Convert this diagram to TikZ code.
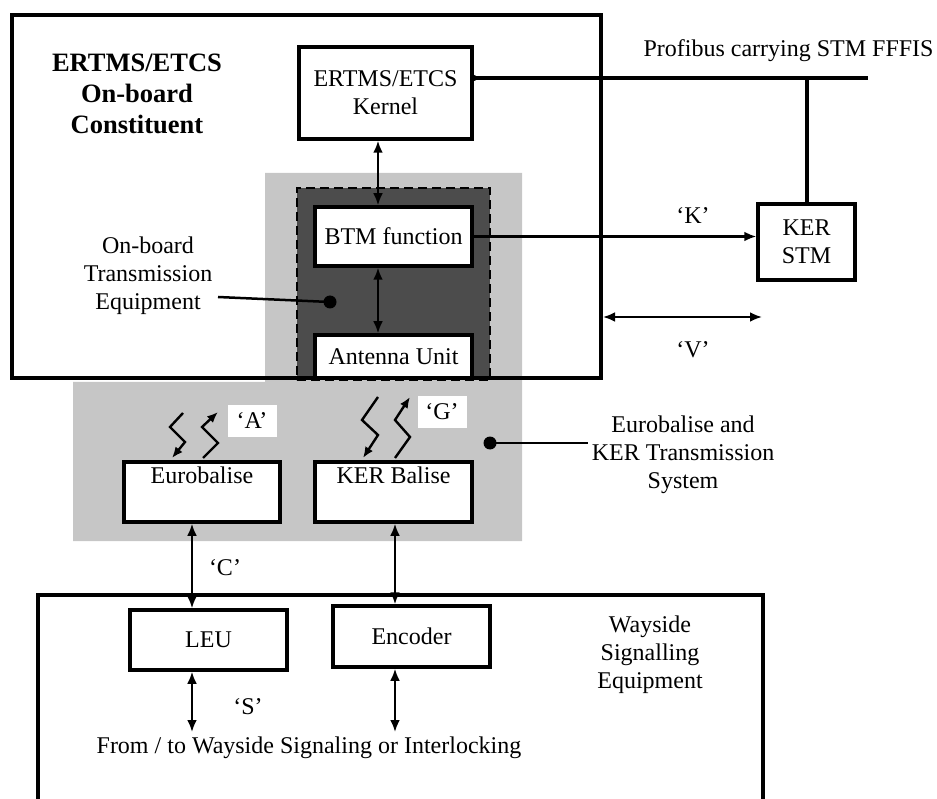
\documentclass[tikz,border=0pt]{standalone}
\usepackage{fontspec}
\setmainfont{Liberation Serif}
\usetikzlibrary{arrows.meta,positioning}

\begin{document}
\begin{tikzpicture}[
    x=1pt, y=-1pt,
    every node/.style={font=\fontsize{24}{28}\selectfont, align=center},
    frame/.style={draw, line width=4pt, inner sep=0pt},
    blk/.style={draw, line width=3.5pt, fill=white, inner sep=0pt},
    quote/.style={fill=white, inner sep=0pt, minimum width=49pt, minimum height=31pt},
    link/.style={line width=2.8pt, {Latex[length=12pt,width=10pt]}-{Latex[length=12pt,width=10pt]}},
    onelink/.style={line width=2.8pt, -{Latex[length=12pt,width=10pt]}},
    bus/.style={line width=4pt},
    wave/.style={line width=2.4pt, -{Latex[length=11pt,width=9pt]}},
    leader/.style={line width=2.5pt},
]
\useasboundingbox (0,0) rectangle (937,799);

% shaded transmission areas
\fill[gray!45] (265,173) rectangle (522,382) (73,382) rectangle (522,541);
\node[draw, dash pattern=on 9pt off 5pt, line width=2.8pt, fill=black!70, inner sep=0pt,
      minimum width=193pt, minimum height=192pt] (bte) at (393.5,284) {};

% on-board side
\node[blk, minimum width=173pt, minimum height=92pt] (kernel) at (385.5,93) {ERTMS/ETCS\\Kernel};
\node[blk, minimum width=157pt, minimum height=59pt] (btm) at (393.5,236.5) {BTM function};
\node[blk, minimum width=157pt, minimum height=43pt] (antenna) at (393.5,356.5) {Antenna Unit};
\node[blk, minimum width=97pt, minimum height=76pt] (stm) at (806.5,242) {KER\\STM};
\node[frame, minimum width=589pt, minimum height=363pt] (onboard) at (306.5,196.5) {};
\node[font=\fontsize{26.5}{31}\selectfont\bfseries] (title) at (137,94) {ERTMS/ETCS\\On-board\\Constituent};
\node (otlabel) at (148,276) {On-board\\Transmission\\Equipment};

\coordinate (kx) at (378,0);
\draw[link] (kernel.south -| kx) -- (btm.north -| kx);
\draw[link] (btm.south -| kx) -- (antenna.north -| kx);

\coordinate (kdot) at (474,78);
\coordinate (busend) at (868,78);
\draw[bus] (kdot) -- (busend);
\fill (kdot) circle (3pt);
\draw[bus] (stm.north |- busend) -- (stm.north);
\node[anchor=base west] (buslabel) at (640,57) {Profibus carrying STM FFFIS};

\draw[onelink] (btm.east) -- (btm.east -| stm.west);
\node (klabel) at (693,216) {‘K’};

\coordinate (vend) at (762,317);
\draw[link] (onboard.east |- vend) -- (vend);
\node (vlabel) at (693,350) {‘V’};

\coordinate (otdot) at (330,302);
\coordinate (otend) at (218,297);
\draw[leader] (otend) -- (otdot);
\fill (otdot) circle (6.5pt);

% balises
\node[blk, minimum width=156pt, minimum height=60pt,
      label={[anchor=north, yshift=-3pt]north:Eurobalise}] (euro) at (202,492) {};
\node[blk, minimum width=157pt, minimum height=60pt,
      label={[anchor=north, yshift=-3pt]north:KER Balise}] (kerb) at (393.5,492) {};

\draw[wave] (183,413) -- (170,427) -- (185,442) -- (172,458);
\draw[wave] (203,458) -- (218,443) -- (202,427) -- (218,412);
\draw[wave] (378,397) -- (362,420) -- (378,435) -- (363,458);
\draw[wave] (395,458) -- (410,437) -- (395,420) -- (410,397);
\node[quote] (alabel) at (252,421) {‘A’};
\node[quote] (glabel) at (442,412) {‘G’};

\node (eblabel) at (683,455) {Eurobalise and\\KER Transmission\\System};
\coordinate (ebdot) at (490,443);
\draw[leader] (ebdot) -- (ebdot -| eblabel.west);
\fill (ebdot) circle (6.5pt);

% wayside
\draw[line width=4pt] (38,801) |- (763,595) -- (763,801);
\node[blk, minimum width=157pt, minimum height=60pt] (leu) at (208.5,640) {LEU};
\node[blk, minimum width=157pt, minimum height=61pt] (encoder) at (411.5,636.5) {Encoder};
\node (wslabel) at (650,655) {Wayside\\Signalling\\Equipment};
\node (fromto) at (309,748) {From / to Wayside Signaling or Interlocking};

\coordinate (cx) at (192,732);
\coordinate (ex) at (395,732);
\draw[link] (euro.south -| cx) -- (leu.north -| cx);
\draw[link] (kerb.south -| ex) -- (encoder.north -| ex);
\draw[link] (leu.south -| cx) -- (cx);
\draw[link] (encoder.south -| ex) -- (ex);
\node (clabel) at (225,568) {‘C’};
\node (slabel) at (248,707) {‘S’};
\end{tikzpicture}
\end{document}
